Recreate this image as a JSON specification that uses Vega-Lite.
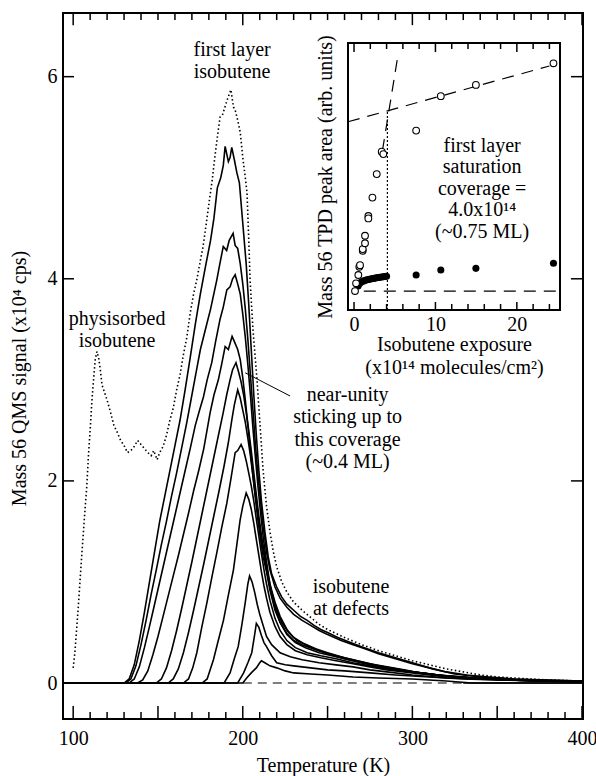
{
"$schema": "https://vega.github.io/schema/vega-lite/v6.json",
"width": 520, "height": 706,
"autosize": {"type": "none"},
"padding": {"left": 63, "top": 13, "right": 13, "bottom": 57},
"background": "white",
"config": {
 "view": {"stroke": "black", "strokeWidth": 2},
 "axis": {"grid": false, "domain": false, "ticks": false, "labelFont": "Liberation Serif", "labelFontSize": 20, "labelColor": "black", "titleFont": "Liberation Serif", "titleFontSize": 20, "titleFontWeight": "normal", "titleColor": "black", "labelFlush": false, "labelOverlap": false},
 "text": {"font": "Liberation Serif", "fontSize": 20, "color": "black"},
 "rule": {"color": "black"}
},
"datasets": {
 "tpd": [
{"c":"A","T":94,"v":0},{"c":"A","T":130,"v":0},{"c":"A","T":133,"v":0.04},{"c":"A","T":136,"v":0.18},{"c":"A","T":139,"v":0.42},{"c":"A","T":142,"v":0.7},{"c":"A","T":145,"v":1.0},{"c":"A","T":148,"v":1.3},{"c":"A","T":151,"v":1.6},{"c":"A","T":154,"v":1.85},{"c":"A","T":157,"v":2.1},{"c":"A","T":160,"v":2.35},{"c":"A","T":163,"v":2.6},{"c":"A","T":166,"v":2.9},{"c":"A","T":169,"v":3.22},{"c":"A","T":172,"v":3.55},{"c":"A","T":175,"v":3.85},{"c":"A","T":178,"v":4.12},{"c":"A","T":181,"v":4.38},{"c":"A","T":183,"v":4.6},{"c":"A","T":185,"v":4.9},{"c":"A","T":187,"v":5.0},{"c":"A","T":188.5,"v":5.12},{"c":"A","T":189.6,"v":5.31},{"c":"A","T":191.5,"v":5.16},{"c":"A","T":192.5,"v":5.2},{"c":"A","T":193.5,"v":5.3},{"c":"A","T":195,"v":5.18},{"c":"A","T":196.5,"v":5.05},{"c":"A","T":198,"v":4.95},{"c":"A","T":200,"v":4.55},{"c":"A","T":202,"v":4.15},{"c":"A","T":203.5,"v":3.75},{"c":"A","T":205,"v":3.3},{"c":"A","T":206.5,"v":2.85},{"c":"A","T":208,"v":2.45},{"c":"A","T":209.5,"v":2.1},{"c":"A","T":211,"v":1.8},{"c":"A","T":213,"v":1.5},{"c":"A","T":215,"v":1.25},{"c":"A","T":217,"v":1.08},{"c":"A","T":220,"v":0.95},{"c":"A","T":223,"v":0.85},{"c":"A","T":226,"v":0.78},{"c":"A","T":230,"v":0.72},{"c":"A","T":234,"v":0.66},{"c":"A","T":238,"v":0.62},{"c":"A","T":242,"v":0.57},{"c":"A","T":246,"v":0.53},{"c":"A","T":250,"v":0.5},{"c":"A","T":256,"v":0.45},{"c":"A","T":262,"v":0.41},{"c":"A","T":270,"v":0.36},{"c":"A","T":280,"v":0.3},{"c":"A","T":290,"v":0.25},{"c":"A","T":300,"v":0.2},{"c":"A","T":312,"v":0.14},{"c":"A","T":325,"v":0.09},{"c":"A","T":340,"v":0.06},{"c":"A","T":356,"v":0.04},{"c":"A","T":375,"v":0.03},{"c":"A","T":400,"v":0.02},
{"c":"B","T":94,"v":0},{"c":"B","T":131,"v":0},{"c":"B","T":134,"v":0.04},{"c":"B","T":137,"v":0.17},{"c":"B","T":140,"v":0.38},{"c":"B","T":143,"v":0.62},{"c":"B","T":146,"v":0.88},{"c":"B","T":149,"v":1.12},{"c":"B","T":152,"v":1.37},{"c":"B","T":155,"v":1.6},{"c":"B","T":158,"v":1.85},{"c":"B","T":161,"v":2.08},{"c":"B","T":164,"v":2.33},{"c":"B","T":167,"v":2.58},{"c":"B","T":170,"v":2.85},{"c":"B","T":173,"v":3.12},{"c":"B","T":175,"v":3.3},{"c":"B","T":178,"v":3.5},{"c":"B","T":181,"v":3.7},{"c":"B","T":184.7,"v":3.99},{"c":"B","T":186.5,"v":4.15},{"c":"B","T":188.5,"v":4.32},{"c":"B","T":190.5,"v":4.28},{"c":"B","T":192,"v":4.38},{"c":"B","T":194.3,"v":4.45},{"c":"B","T":195.5,"v":4.33},{"c":"B","T":197,"v":4.3},{"c":"B","T":198.5,"v":4.15},{"c":"B","T":200,"v":3.95},{"c":"B","T":201.5,"v":3.7},{"c":"B","T":203,"v":3.4},{"c":"B","T":204.5,"v":3.05},{"c":"B","T":206,"v":2.7},{"c":"B","T":207.5,"v":2.35},{"c":"B","T":209,"v":2.05},{"c":"B","T":210.5,"v":1.8},{"c":"B","T":212,"v":1.55},{"c":"B","T":214,"v":1.3},{"c":"B","T":216,"v":1.12},{"c":"B","T":219,"v":0.95},{"c":"B","T":222,"v":0.84},{"c":"B","T":226,"v":0.75},{"c":"B","T":230,"v":0.68},{"c":"B","T":235,"v":0.62},{"c":"B","T":240,"v":0.57},{"c":"B","T":245,"v":0.52},{"c":"B","T":250,"v":0.48},{"c":"B","T":258,"v":0.42},{"c":"B","T":265,"v":0.38},{"c":"B","T":272,"v":0.34},{"c":"B","T":280,"v":0.29},{"c":"B","T":290,"v":0.24},{"c":"B","T":300,"v":0.19},{"c":"B","T":310,"v":0.15},{"c":"B","T":320,"v":0.11},{"c":"B","T":332,"v":0.08},{"c":"B","T":345,"v":0.06},{"c":"B","T":360,"v":0.04},{"c":"B","T":380,"v":0.03},{"c":"B","T":400,"v":0.02},
{"c":"C","T":94,"v":0},{"c":"C","T":133,"v":0},{"c":"C","T":136,"v":0.04},{"c":"C","T":139,"v":0.16},{"c":"C","T":142,"v":0.35},{"c":"C","T":145,"v":0.56},{"c":"C","T":148,"v":0.78},{"c":"C","T":151,"v":1.0},{"c":"C","T":154,"v":1.22},{"c":"C","T":157,"v":1.44},{"c":"C","T":160,"v":1.66},{"c":"C","T":163,"v":1.88},{"c":"C","T":166,"v":2.1},{"c":"C","T":169,"v":2.32},{"c":"C","T":172,"v":2.55},{"c":"C","T":174.5,"v":2.7},{"c":"C","T":176.8,"v":2.83},{"c":"C","T":179,"v":3.0},{"c":"C","T":181.7,"v":3.17},{"c":"C","T":184,"v":3.38},{"c":"C","T":186.6,"v":3.6},{"c":"C","T":188.5,"v":3.72},{"c":"C","T":190.6,"v":3.89},{"c":"C","T":192.5,"v":3.92},{"c":"C","T":194,"v":4.0},{"c":"C","T":195.5,"v":4.04},{"c":"C","T":197,"v":3.95},{"c":"C","T":198.5,"v":3.85},{"c":"C","T":200,"v":3.65},{"c":"C","T":201.5,"v":3.42},{"c":"C","T":203,"v":3.15},{"c":"C","T":204.5,"v":2.85},{"c":"C","T":206,"v":2.52},{"c":"C","T":207.5,"v":2.22},{"c":"C","T":209,"v":1.94},{"c":"C","T":210.5,"v":1.68},{"c":"C","T":212,"v":1.45},{"c":"C","T":214,"v":1.2},{"c":"C","T":216,"v":0.98},{"c":"C","T":219,"v":0.8},{"c":"C","T":222,"v":0.66},{"c":"C","T":226,"v":0.53},{"c":"C","T":230,"v":0.45},{"c":"C","T":236,"v":0.39},{"c":"C","T":243,"v":0.34},{"c":"C","T":250,"v":0.3},{"c":"C","T":260,"v":0.25},{"c":"C","T":270,"v":0.21},{"c":"C","T":280,"v":0.17},{"c":"C","T":290,"v":0.14},{"c":"C","T":300,"v":0.11},{"c":"C","T":315,"v":0.08},{"c":"C","T":330,"v":0.06},{"c":"C","T":345,"v":0.04},{"c":"C","T":365,"v":0.03},{"c":"C","T":385,"v":0.02},{"c":"C","T":400,"v":0.015},
{"c":"D","T":94,"v":0},{"c":"D","T":138,"v":0},{"c":"D","T":141,"v":0.03},{"c":"D","T":144,"v":0.12},{"c":"D","T":147,"v":0.28},{"c":"D","T":150,"v":0.46},{"c":"D","T":153,"v":0.66},{"c":"D","T":156,"v":0.86},{"c":"D","T":159,"v":1.06},{"c":"D","T":162,"v":1.26},{"c":"D","T":165,"v":1.47},{"c":"D","T":168,"v":1.68},{"c":"D","T":171,"v":1.9},{"c":"D","T":174,"v":2.1},{"c":"D","T":177,"v":2.32},{"c":"D","T":180.7,"v":2.67},{"c":"D","T":183,"v":2.85},{"c":"D","T":185.6,"v":3.0},{"c":"D","T":187.5,"v":3.15},{"c":"D","T":189.6,"v":3.33},{"c":"D","T":191.5,"v":3.3},{"c":"D","T":193.7,"v":3.43},{"c":"D","T":195,"v":3.38},{"c":"D","T":197,"v":3.3},{"c":"D","T":198.5,"v":3.2},{"c":"D","T":200,"v":3.02},{"c":"D","T":201.5,"v":2.8},{"c":"D","T":203,"v":2.55},{"c":"D","T":204.5,"v":2.3},{"c":"D","T":206,"v":2.05},{"c":"D","T":207.5,"v":1.82},{"c":"D","T":209,"v":1.6},{"c":"D","T":210.5,"v":1.42},{"c":"D","T":212,"v":1.25},{"c":"D","T":214,"v":1.1},{"c":"D","T":216,"v":0.92},{"c":"D","T":219,"v":0.72},{"c":"D","T":222,"v":0.6},{"c":"D","T":226,"v":0.49},{"c":"D","T":230,"v":0.42},{"c":"D","T":236,"v":0.37},{"c":"D","T":243,"v":0.33},{"c":"D","T":250,"v":0.29},{"c":"D","T":260,"v":0.24},{"c":"D","T":270,"v":0.2},{"c":"D","T":280,"v":0.17},{"c":"D","T":290,"v":0.14},{"c":"D","T":300,"v":0.11},{"c":"D","T":315,"v":0.08},{"c":"D","T":330,"v":0.06},{"c":"D","T":345,"v":0.04},{"c":"D","T":365,"v":0.03},{"c":"D","T":385,"v":0.02},{"c":"D","T":400,"v":0.015},
{"c":"E","T":94,"v":0},{"c":"E","T":149,"v":0},{"c":"E","T":152,"v":0.04},{"c":"E","T":155,"v":0.15},{"c":"E","T":158,"v":0.32},{"c":"E","T":161,"v":0.52},{"c":"E","T":164,"v":0.74},{"c":"E","T":167,"v":0.97},{"c":"E","T":170,"v":1.2},{"c":"E","T":173,"v":1.44},{"c":"E","T":176,"v":1.68},{"c":"E","T":179,"v":1.92},{"c":"E","T":182,"v":2.16},{"c":"E","T":185,"v":2.4},{"c":"E","T":188.4,"v":2.67},{"c":"E","T":190.5,"v":2.85},{"c":"E","T":192.5,"v":3.0},{"c":"E","T":194,"v":3.1},{"c":"E","T":196,"v":3.17},{"c":"E","T":197.5,"v":3.08},{"c":"E","T":199,"v":2.98},{"c":"E","T":200.5,"v":2.85},{"c":"E","T":202,"v":2.68},{"c":"E","T":203.5,"v":2.5},{"c":"E","T":205,"v":2.3},{"c":"E","T":206.5,"v":2.08},{"c":"E","T":208,"v":1.86},{"c":"E","T":209.5,"v":1.65},{"c":"E","T":211,"v":1.46},{"c":"E","T":213,"v":1.26},{"c":"E","T":215,"v":1.06},{"c":"E","T":217,"v":0.9},{"c":"E","T":220,"v":0.72},{"c":"E","T":223,"v":0.6},{"c":"E","T":227,"v":0.5},{"c":"E","T":232,"v":0.42},{"c":"E","T":238,"v":0.37},{"c":"E","T":245,"v":0.32},{"c":"E","T":255,"v":0.27},{"c":"E","T":265,"v":0.23},{"c":"E","T":275,"v":0.19},{"c":"E","T":285,"v":0.16},{"c":"E","T":295,"v":0.13},{"c":"E","T":305,"v":0.1},{"c":"E","T":320,"v":0.07},{"c":"E","T":335,"v":0.05},{"c":"E","T":355,"v":0.03},{"c":"E","T":375,"v":0.02},{"c":"E","T":400,"v":0.015},
{"c":"F","T":94,"v":0},{"c":"F","T":156,"v":0},{"c":"F","T":159,"v":0.04},{"c":"F","T":162,"v":0.14},{"c":"F","T":165,"v":0.3},{"c":"F","T":168,"v":0.5},{"c":"F","T":171,"v":0.72},{"c":"F","T":174,"v":0.95},{"c":"F","T":177,"v":1.18},{"c":"F","T":180,"v":1.42},{"c":"F","T":183,"v":1.66},{"c":"F","T":186,"v":1.9},{"c":"F","T":189,"v":2.15},{"c":"F","T":191.5,"v":2.38},{"c":"F","T":193.5,"v":2.6},{"c":"F","T":195,"v":2.75},{"c":"F","T":197,"v":2.9},{"c":"F","T":198.5,"v":2.82},{"c":"F","T":200,"v":2.7},{"c":"F","T":201.5,"v":2.58},{"c":"F","T":203,"v":2.42},{"c":"F","T":204.5,"v":2.25},{"c":"F","T":206,"v":2.05},{"c":"F","T":207.5,"v":1.85},{"c":"F","T":209,"v":1.66},{"c":"F","T":210.5,"v":1.48},{"c":"F","T":212,"v":1.32},{"c":"F","T":214,"v":1.12},{"c":"F","T":216,"v":0.95},{"c":"F","T":219,"v":0.75},{"c":"F","T":222,"v":0.6},{"c":"F","T":226,"v":0.48},{"c":"F","T":231,"v":0.4},{"c":"F","T":237,"v":0.35},{"c":"F","T":245,"v":0.3},{"c":"F","T":255,"v":0.26},{"c":"F","T":265,"v":0.22},{"c":"F","T":275,"v":0.18},{"c":"F","T":285,"v":0.15},{"c":"F","T":295,"v":0.12},{"c":"F","T":305,"v":0.1},{"c":"F","T":320,"v":0.07},{"c":"F","T":335,"v":0.05},{"c":"F","T":355,"v":0.03},{"c":"F","T":375,"v":0.02},{"c":"F","T":400,"v":0.015},
{"c":"G","T":94,"v":0},{"c":"G","T":165,"v":0},{"c":"G","T":168,"v":0.04},{"c":"G","T":170.5,"v":0.15},{"c":"G","T":172.9,"v":0.3},{"c":"G","T":175.8,"v":0.55},{"c":"G","T":178.8,"v":0.79},{"c":"G","T":181.7,"v":1.04},{"c":"G","T":184.7,"v":1.29},{"c":"G","T":187.6,"v":1.54},{"c":"G","T":190.6,"v":1.78},{"c":"G","T":193,"v":2.02},{"c":"G","T":195.5,"v":2.28},{"c":"G","T":197,"v":2.3},{"c":"G","T":199,"v":2.36},{"c":"G","T":200.5,"v":2.3},{"c":"G","T":202,"v":2.2},{"c":"G","T":203.5,"v":2.08},{"c":"G","T":205,"v":1.95},{"c":"G","T":206.5,"v":1.8},{"c":"G","T":208,"v":1.62},{"c":"G","T":209.5,"v":1.45},{"c":"G","T":211,"v":1.28},{"c":"G","T":212.5,"v":1.12},{"c":"G","T":214,"v":0.98},{"c":"G","T":216,"v":0.82},{"c":"G","T":219,"v":0.64},{"c":"G","T":222,"v":0.52},{"c":"G","T":226,"v":0.42},{"c":"G","T":231,"v":0.35},{"c":"G","T":238,"v":0.3},{"c":"G","T":246,"v":0.27},{"c":"G","T":255,"v":0.24},{"c":"G","T":265,"v":0.2},{"c":"G","T":275,"v":0.17},{"c":"G","T":285,"v":0.14},{"c":"G","T":295,"v":0.12},{"c":"G","T":305,"v":0.1},{"c":"G","T":320,"v":0.07},{"c":"G","T":335,"v":0.05},{"c":"G","T":355,"v":0.03},{"c":"G","T":375,"v":0.02},{"c":"G","T":400,"v":0.015},
{"c":"H","T":94,"v":0},{"c":"H","T":176,"v":0},{"c":"H","T":179,"v":0.04},{"c":"H","T":182.7,"v":0.23},{"c":"H","T":185.7,"v":0.43},{"c":"H","T":188.6,"v":0.62},{"c":"H","T":191.5,"v":0.87},{"c":"H","T":194.5,"v":1.12},{"c":"H","T":196.5,"v":1.37},{"c":"H","T":198.4,"v":1.61},{"c":"H","T":200,"v":1.75},{"c":"H","T":202,"v":1.88},{"c":"H","T":203.5,"v":1.82},{"c":"H","T":205,"v":1.72},{"c":"H","T":206.5,"v":1.58},{"c":"H","T":208,"v":1.42},{"c":"H","T":209.5,"v":1.26},{"c":"H","T":211,"v":1.1},{"c":"H","T":212.5,"v":0.96},{"c":"H","T":214,"v":0.84},{"c":"H","T":216,"v":0.7},{"c":"H","T":219,"v":0.56},{"c":"H","T":222,"v":0.46},{"c":"H","T":226,"v":0.38},{"c":"H","T":231,"v":0.32},{"c":"H","T":238,"v":0.28},{"c":"H","T":246,"v":0.25},{"c":"H","T":255,"v":0.22},{"c":"H","T":265,"v":0.19},{"c":"H","T":275,"v":0.16},{"c":"H","T":285,"v":0.13},{"c":"H","T":295,"v":0.11},{"c":"H","T":305,"v":0.09},{"c":"H","T":320,"v":0.06},{"c":"H","T":335,"v":0.04},{"c":"H","T":355,"v":0.03},{"c":"H","T":375,"v":0.02},{"c":"H","T":400,"v":0.01},
{"c":"I","T":94,"v":0},{"c":"I","T":189,"v":0},{"c":"I","T":192.5,"v":0.1},{"c":"I","T":195,"v":0.24},{"c":"I","T":197.3,"v":0.36},{"c":"I","T":199.5,"v":0.58},{"c":"I","T":201.4,"v":0.79},{"c":"I","T":203,"v":0.98},{"c":"I","T":204,"v":1.06},{"c":"I","T":205.5,"v":1.0},{"c":"I","T":207,"v":0.9},{"c":"I","T":208.5,"v":0.78},{"c":"I","T":210,"v":0.68},{"c":"I","T":212,"v":0.57},{"c":"I","T":214,"v":0.46},{"c":"I","T":217,"v":0.38},{"c":"I","T":222,"v":0.3},{"c":"I","T":228,"v":0.26},{"c":"I","T":235,"v":0.23},{"c":"I","T":245,"v":0.2},{"c":"I","T":255,"v":0.18},{"c":"I","T":265,"v":0.16},{"c":"I","T":275,"v":0.13},{"c":"I","T":285,"v":0.11},{"c":"I","T":300,"v":0.08},{"c":"I","T":320,"v":0.05},{"c":"I","T":340,"v":0.04},{"c":"I","T":360,"v":0.03},{"c":"I","T":380,"v":0.02},{"c":"I","T":400,"v":0.01},
{"c":"J","T":94,"v":0},{"c":"J","T":197,"v":0},{"c":"J","T":200.5,"v":0.1},{"c":"J","T":203,"v":0.2},{"c":"J","T":205.3,"v":0.3},{"c":"J","T":207,"v":0.48},{"c":"J","T":208,"v":0.59},{"c":"J","T":209.5,"v":0.55},{"c":"J","T":211,"v":0.47},{"c":"J","T":212.5,"v":0.4},{"c":"J","T":214,"v":0.36},{"c":"J","T":217,"v":0.27},{"c":"J","T":220,"v":0.2},{"c":"J","T":225,"v":0.18},{"c":"J","T":230,"v":0.17},{"c":"J","T":240,"v":0.15},{"c":"J","T":250,"v":0.13},{"c":"J","T":260,"v":0.12},{"c":"J","T":275,"v":0.1},{"c":"J","T":290,"v":0.08},{"c":"J","T":310,"v":0.06},{"c":"J","T":330,"v":0.04},{"c":"J","T":350,"v":0.03},{"c":"J","T":375,"v":0.02},{"c":"J","T":400,"v":0.01},
{"c":"K","T":94,"v":0},{"c":"K","T":200,"v":0},{"c":"K","T":202.3,"v":0.05},{"c":"K","T":205,"v":0.1},{"c":"K","T":208,"v":0.15},{"c":"K","T":210,"v":0.2},{"c":"K","T":211,"v":0.22},{"c":"K","T":213,"v":0.2},{"c":"K","T":216,"v":0.17},{"c":"K","T":220,"v":0.15},{"c":"K","T":225,"v":0.12},{"c":"K","T":230,"v":0.1},{"c":"K","T":240,"v":0.09},{"c":"K","T":250,"v":0.08},{"c":"K","T":265,"v":0.06},{"c":"K","T":280,"v":0.05},{"c":"K","T":300,"v":0.04},{"c":"K","T":320,"v":0.02},{"c":"K","T":335,"v":0},{"c":"K","T":400,"v":0}
 ],
 "sat": [
{"T":100,"v":0.15},{"T":101,"v":0.3},{"T":103,"v":0.75},{"T":105,"v":1.25},{"T":107,"v":1.72},{"T":108,"v":1.94},{"T":109,"v":2.25},{"T":110,"v":2.5},{"T":111,"v":2.78},{"T":112,"v":3.0},{"T":113,"v":3.2},{"T":114,"v":3.28},{"T":115,"v":3.22},{"T":116,"v":3.1},{"T":117,"v":2.95},{"T":118,"v":2.9},{"T":120,"v":2.8},{"T":122,"v":2.68},{"T":124,"v":2.55},{"T":126,"v":2.48},{"T":128,"v":2.4},{"T":130,"v":2.35},{"T":132,"v":2.28},{"T":134,"v":2.3},{"T":136,"v":2.34},{"T":138,"v":2.4},{"T":140,"v":2.36},{"T":142,"v":2.32},{"T":144,"v":2.28},{"T":146,"v":2.25},{"T":147.5,"v":2.3},{"T":149.5,"v":2.21},{"T":151,"v":2.28},{"T":153,"v":2.34},{"T":155,"v":2.45},{"T":157,"v":2.6},{"T":159,"v":2.72},{"T":161,"v":2.9},{"T":163,"v":3.05},{"T":165,"v":3.25},{"T":167,"v":3.42},{"T":169,"v":3.66},{"T":171,"v":3.85},{"T":173,"v":4.0},{"T":175,"v":4.18},{"T":176.6,"v":4.32},{"T":178.5,"v":4.55},{"T":180.5,"v":4.8},{"T":182,"v":4.98},{"T":183.5,"v":5.2},{"T":185,"v":5.4},{"T":186.6,"v":5.6},{"T":188,"v":5.62},{"T":189.5,"v":5.7},{"T":191,"v":5.78},{"T":193,"v":5.87},{"T":194.5,"v":5.7},{"T":195.5,"v":5.67},{"T":197,"v":5.57},{"T":198.5,"v":5.45},{"T":200,"v":5.2},{"T":201.5,"v":5.0},{"T":202.5,"v":4.85},{"T":203.5,"v":4.4},{"T":204.3,"v":3.99},{"T":206,"v":3.5},{"T":208.4,"v":3.0},{"T":210,"v":2.6},{"T":212,"v":2.1},{"T":214,"v":1.75},{"T":216,"v":1.5},{"T":218,"v":1.3},{"T":220,"v":1.15},{"T":223,"v":1.0},{"T":226,"v":0.9},{"T":230,"v":0.8},{"T":235,"v":0.72},{"T":240,"v":0.65},{"T":245,"v":0.58},{"T":250,"v":0.53},{"T":255,"v":0.49},{"T":260,"v":0.45},{"T":270,"v":0.38},{"T":280,"v":0.32},{"T":290,"v":0.27},{"T":300,"v":0.22},{"T":310,"v":0.18},{"T":320,"v":0.14},{"T":330,"v":0.11},{"T":340,"v":0.08},{"T":350,"v":0.06},{"T":360,"v":0.05},{"T":370,"v":0.04},{"T":380,"v":0.03},{"T":390,"v":0.025},{"T":400,"v":0.02}
 ],
 "open": [
{"e":0.12,"a":7.1},{"e":0.25,"a":10.0},{"e":0.53,"a":13.1},{"e":0.65,"a":16.2},{"e":0.74,"a":16.8},{"e":1.07,"a":22.2},{"e":1.07,"a":22.8},{"e":1.35,"a":25.0},{"e":1.35,"a":27.8},{"e":1.76,"a":35.2},{"e":1.76,"a":34.3},{"e":2.26,"a":42.1},{"e":2.79,"a":50.9},{"e":3.4,"a":59.3},{"e":3.6,"a":58.4},{"e":7.63,"a":67.2},{"e":10.66,"a":80.1},{"e":14.97,"a":84.3},{"e":24.5,"a":92.4}
 ],
 "filled": [
{"e":0.5,"a":9.0},{"e":0.65,"a":9.8},{"e":0.8,"a":10.3},{"e":1.0,"a":10.7},{"e":1.2,"a":10.9},{"e":1.4,"a":11.1},{"e":1.6,"a":11.3},{"e":1.8,"a":11.4},{"e":2.0,"a":11.6},{"e":2.2,"a":11.7},{"e":2.4,"a":11.8},{"e":2.6,"a":11.95},{"e":2.8,"a":12.05},{"e":3.0,"a":12.15},{"e":3.2,"a":12.25},{"e":3.4,"a":12.35},{"e":3.6,"a":12.45},{"e":3.8,"a":12.55},{"e":4.0,"a":12.65},{"e":7.63,"a":13.1},{"e":10.66,"a":15.0},{"e":14.97,"a":15.6},{"e":24.5,"a":17.5}
 ]
},
"layer": [
 {"data": {"name": "tpd"},
  "mark": {"type": "line", "color": "black", "strokeWidth": 1.6},
  "encoding": {
   "x": {"field": "T", "type": "quantitative", "scale": {"domain": [94, 400.6], "nice": false, "zero": false},
     "axis": {"orient": "bottom", "values": [100, 200, 300, 400], "labelPadding": 9, "title": "Temperature (K)", "titleY": 52, "titleBaseline": "alphabetic"}},
   "y": {"field": "v", "type": "quantitative", "scale": {"domain": [-0.356, 6.63], "nice": false, "zero": false},
     "axis": {"orient": "left", "values": [0, 2, 4, 6], "labelPadding": 6, "title": "Mass 56 QMS signal (x10⁴ cps)", "titleX": -38, "titleY": 365, "titleBaseline": "alphabetic", "titleAngle": 270}},
   "detail": {"field": "c"}
  }},
 {"data": {"name": "sat"},
  "mark": {"type": "line", "color": "black", "strokeWidth": 1.6, "strokeDash": [1.5, 2.5]},
  "encoding": {
   "x": {"field": "T", "type": "quantitative", "scale": {"domain": [94, 400.6], "nice": false, "zero": false}, "axis": null},
   "y": {"field": "v", "type": "quantitative", "scale": {"domain": [-0.356, 6.63], "nice": false, "zero": false}, "axis": null}
  }},
 {"data":{"values":[{}]},"mark":{"type":"rule","strokeWidth":1.5},"encoding":{"x":{"datum":100,"type":"quantitative","scale":{"domain":[94,400.6],"nice":false,"zero":false},"axis":null},"y":{"datum":-0.356,"type":"quantitative","scale":{"domain":[-0.356,6.63],"nice":false,"zero":false},"axis":null},"y2":{"datum":-0.227}}},
 {"data":{"values":[{}]},"mark":{"type":"rule","strokeWidth":1.5},"encoding":{"x":{"datum":150,"type":"quantitative","scale":{"domain":[94,400.6],"nice":false,"zero":false},"axis":null},"y":{"datum":-0.356,"type":"quantitative","scale":{"domain":[-0.356,6.63],"nice":false,"zero":false},"axis":null},"y2":{"datum":-0.227}}},
 {"data":{"values":[{}]},"mark":{"type":"rule","strokeWidth":1.5},"encoding":{"x":{"datum":200,"type":"quantitative","scale":{"domain":[94,400.6],"nice":false,"zero":false},"axis":null},"y":{"datum":-0.356,"type":"quantitative","scale":{"domain":[-0.356,6.63],"nice":false,"zero":false},"axis":null},"y2":{"datum":-0.227}}},
 {"data":{"values":[{}]},"mark":{"type":"rule","strokeWidth":1.5},"encoding":{"x":{"datum":250,"type":"quantitative","scale":{"domain":[94,400.6],"nice":false,"zero":false},"axis":null},"y":{"datum":-0.356,"type":"quantitative","scale":{"domain":[-0.356,6.63],"nice":false,"zero":false},"axis":null},"y2":{"datum":-0.227}}},
 {"data":{"values":[{}]},"mark":{"type":"rule","strokeWidth":1.5},"encoding":{"x":{"datum":300,"type":"quantitative","scale":{"domain":[94,400.6],"nice":false,"zero":false},"axis":null},"y":{"datum":-0.356,"type":"quantitative","scale":{"domain":[-0.356,6.63],"nice":false,"zero":false},"axis":null},"y2":{"datum":-0.227}}},
 {"data":{"values":[{}]},"mark":{"type":"rule","strokeWidth":1.5},"encoding":{"x":{"datum":350,"type":"quantitative","scale":{"domain":[94,400.6],"nice":false,"zero":false},"axis":null},"y":{"datum":-0.356,"type":"quantitative","scale":{"domain":[-0.356,6.63],"nice":false,"zero":false},"axis":null},"y2":{"datum":-0.227}}},
 {"data":{"values":[{}]},"mark":{"type":"rule","strokeWidth":1.5},"encoding":{"x":{"datum":400,"type":"quantitative","scale":{"domain":[94,400.6],"nice":false,"zero":false},"axis":null},"y":{"datum":-0.356,"type":"quantitative","scale":{"domain":[-0.356,6.63],"nice":false,"zero":false},"axis":null},"y2":{"datum":-0.227}}},
 {"data":{"values":[{}]},"mark":{"type":"rule","strokeWidth":1.5},"encoding":{"x":{"datum":110,"type":"quantitative","scale":{"domain":[94,400.6],"nice":false,"zero":false},"axis":null},"y":{"datum":-0.356,"type":"quantitative","scale":{"domain":[-0.356,6.63],"nice":false,"zero":false},"axis":null},"y2":{"datum":-0.287}}},
 {"data":{"values":[{}]},"mark":{"type":"rule","strokeWidth":1.5},"encoding":{"x":{"datum":120,"type":"quantitative","scale":{"domain":[94,400.6],"nice":false,"zero":false},"axis":null},"y":{"datum":-0.356,"type":"quantitative","scale":{"domain":[-0.356,6.63],"nice":false,"zero":false},"axis":null},"y2":{"datum":-0.287}}},
 {"data":{"values":[{}]},"mark":{"type":"rule","strokeWidth":1.5},"encoding":{"x":{"datum":130,"type":"quantitative","scale":{"domain":[94,400.6],"nice":false,"zero":false},"axis":null},"y":{"datum":-0.356,"type":"quantitative","scale":{"domain":[-0.356,6.63],"nice":false,"zero":false},"axis":null},"y2":{"datum":-0.287}}},
 {"data":{"values":[{}]},"mark":{"type":"rule","strokeWidth":1.5},"encoding":{"x":{"datum":140,"type":"quantitative","scale":{"domain":[94,400.6],"nice":false,"zero":false},"axis":null},"y":{"datum":-0.356,"type":"quantitative","scale":{"domain":[-0.356,6.63],"nice":false,"zero":false},"axis":null},"y2":{"datum":-0.287}}},
 {"data":{"values":[{}]},"mark":{"type":"rule","strokeWidth":1.5},"encoding":{"x":{"datum":160,"type":"quantitative","scale":{"domain":[94,400.6],"nice":false,"zero":false},"axis":null},"y":{"datum":-0.356,"type":"quantitative","scale":{"domain":[-0.356,6.63],"nice":false,"zero":false},"axis":null},"y2":{"datum":-0.287}}},
 {"data":{"values":[{}]},"mark":{"type":"rule","strokeWidth":1.5},"encoding":{"x":{"datum":170,"type":"quantitative","scale":{"domain":[94,400.6],"nice":false,"zero":false},"axis":null},"y":{"datum":-0.356,"type":"quantitative","scale":{"domain":[-0.356,6.63],"nice":false,"zero":false},"axis":null},"y2":{"datum":-0.287}}},
 {"data":{"values":[{}]},"mark":{"type":"rule","strokeWidth":1.5},"encoding":{"x":{"datum":180,"type":"quantitative","scale":{"domain":[94,400.6],"nice":false,"zero":false},"axis":null},"y":{"datum":-0.356,"type":"quantitative","scale":{"domain":[-0.356,6.63],"nice":false,"zero":false},"axis":null},"y2":{"datum":-0.287}}},
 {"data":{"values":[{}]},"mark":{"type":"rule","strokeWidth":1.5},"encoding":{"x":{"datum":190,"type":"quantitative","scale":{"domain":[94,400.6],"nice":false,"zero":false},"axis":null},"y":{"datum":-0.356,"type":"quantitative","scale":{"domain":[-0.356,6.63],"nice":false,"zero":false},"axis":null},"y2":{"datum":-0.287}}},
 {"data":{"values":[{}]},"mark":{"type":"rule","strokeWidth":1.5},"encoding":{"x":{"datum":210,"type":"quantitative","scale":{"domain":[94,400.6],"nice":false,"zero":false},"axis":null},"y":{"datum":-0.356,"type":"quantitative","scale":{"domain":[-0.356,6.63],"nice":false,"zero":false},"axis":null},"y2":{"datum":-0.287}}},
 {"data":{"values":[{}]},"mark":{"type":"rule","strokeWidth":1.5},"encoding":{"x":{"datum":220,"type":"quantitative","scale":{"domain":[94,400.6],"nice":false,"zero":false},"axis":null},"y":{"datum":-0.356,"type":"quantitative","scale":{"domain":[-0.356,6.63],"nice":false,"zero":false},"axis":null},"y2":{"datum":-0.287}}},
 {"data":{"values":[{}]},"mark":{"type":"rule","strokeWidth":1.5},"encoding":{"x":{"datum":230,"type":"quantitative","scale":{"domain":[94,400.6],"nice":false,"zero":false},"axis":null},"y":{"datum":-0.356,"type":"quantitative","scale":{"domain":[-0.356,6.63],"nice":false,"zero":false},"axis":null},"y2":{"datum":-0.287}}},
 {"data":{"values":[{}]},"mark":{"type":"rule","strokeWidth":1.5},"encoding":{"x":{"datum":240,"type":"quantitative","scale":{"domain":[94,400.6],"nice":false,"zero":false},"axis":null},"y":{"datum":-0.356,"type":"quantitative","scale":{"domain":[-0.356,6.63],"nice":false,"zero":false},"axis":null},"y2":{"datum":-0.287}}},
 {"data":{"values":[{}]},"mark":{"type":"rule","strokeWidth":1.5},"encoding":{"x":{"datum":260,"type":"quantitative","scale":{"domain":[94,400.6],"nice":false,"zero":false},"axis":null},"y":{"datum":-0.356,"type":"quantitative","scale":{"domain":[-0.356,6.63],"nice":false,"zero":false},"axis":null},"y2":{"datum":-0.287}}},
 {"data":{"values":[{}]},"mark":{"type":"rule","strokeWidth":1.5},"encoding":{"x":{"datum":270,"type":"quantitative","scale":{"domain":[94,400.6],"nice":false,"zero":false},"axis":null},"y":{"datum":-0.356,"type":"quantitative","scale":{"domain":[-0.356,6.63],"nice":false,"zero":false},"axis":null},"y2":{"datum":-0.287}}},
 {"data":{"values":[{}]},"mark":{"type":"rule","strokeWidth":1.5},"encoding":{"x":{"datum":280,"type":"quantitative","scale":{"domain":[94,400.6],"nice":false,"zero":false},"axis":null},"y":{"datum":-0.356,"type":"quantitative","scale":{"domain":[-0.356,6.63],"nice":false,"zero":false},"axis":null},"y2":{"datum":-0.287}}},
 {"data":{"values":[{}]},"mark":{"type":"rule","strokeWidth":1.5},"encoding":{"x":{"datum":290,"type":"quantitative","scale":{"domain":[94,400.6],"nice":false,"zero":false},"axis":null},"y":{"datum":-0.356,"type":"quantitative","scale":{"domain":[-0.356,6.63],"nice":false,"zero":false},"axis":null},"y2":{"datum":-0.287}}},
 {"data":{"values":[{}]},"mark":{"type":"rule","strokeWidth":1.5},"encoding":{"x":{"datum":310,"type":"quantitative","scale":{"domain":[94,400.6],"nice":false,"zero":false},"axis":null},"y":{"datum":-0.356,"type":"quantitative","scale":{"domain":[-0.356,6.63],"nice":false,"zero":false},"axis":null},"y2":{"datum":-0.287}}},
 {"data":{"values":[{}]},"mark":{"type":"rule","strokeWidth":1.5},"encoding":{"x":{"datum":320,"type":"quantitative","scale":{"domain":[94,400.6],"nice":false,"zero":false},"axis":null},"y":{"datum":-0.356,"type":"quantitative","scale":{"domain":[-0.356,6.63],"nice":false,"zero":false},"axis":null},"y2":{"datum":-0.287}}},
 {"data":{"values":[{}]},"mark":{"type":"rule","strokeWidth":1.5},"encoding":{"x":{"datum":330,"type":"quantitative","scale":{"domain":[94,400.6],"nice":false,"zero":false},"axis":null},"y":{"datum":-0.356,"type":"quantitative","scale":{"domain":[-0.356,6.63],"nice":false,"zero":false},"axis":null},"y2":{"datum":-0.287}}},
 {"data":{"values":[{}]},"mark":{"type":"rule","strokeWidth":1.5},"encoding":{"x":{"datum":340,"type":"quantitative","scale":{"domain":[94,400.6],"nice":false,"zero":false},"axis":null},"y":{"datum":-0.356,"type":"quantitative","scale":{"domain":[-0.356,6.63],"nice":false,"zero":false},"axis":null},"y2":{"datum":-0.287}}},
 {"data":{"values":[{}]},"mark":{"type":"rule","strokeWidth":1.5},"encoding":{"x":{"datum":360,"type":"quantitative","scale":{"domain":[94,400.6],"nice":false,"zero":false},"axis":null},"y":{"datum":-0.356,"type":"quantitative","scale":{"domain":[-0.356,6.63],"nice":false,"zero":false},"axis":null},"y2":{"datum":-0.287}}},
 {"data":{"values":[{}]},"mark":{"type":"rule","strokeWidth":1.5},"encoding":{"x":{"datum":370,"type":"quantitative","scale":{"domain":[94,400.6],"nice":false,"zero":false},"axis":null},"y":{"datum":-0.356,"type":"quantitative","scale":{"domain":[-0.356,6.63],"nice":false,"zero":false},"axis":null},"y2":{"datum":-0.287}}},
 {"data":{"values":[{}]},"mark":{"type":"rule","strokeWidth":1.5},"encoding":{"x":{"datum":380,"type":"quantitative","scale":{"domain":[94,400.6],"nice":false,"zero":false},"axis":null},"y":{"datum":-0.356,"type":"quantitative","scale":{"domain":[-0.356,6.63],"nice":false,"zero":false},"axis":null},"y2":{"datum":-0.287}}},
 {"data":{"values":[{}]},"mark":{"type":"rule","strokeWidth":1.5},"encoding":{"x":{"datum":390,"type":"quantitative","scale":{"domain":[94,400.6],"nice":false,"zero":false},"axis":null},"y":{"datum":-0.356,"type":"quantitative","scale":{"domain":[-0.356,6.63],"nice":false,"zero":false},"axis":null},"y2":{"datum":-0.287}}},
 {"data":{"values":[{}]},"mark":{"type":"rule","strokeWidth":1.5},"encoding":{"x":{"datum":100,"type":"quantitative","scale":{"domain":[94,400.6],"nice":false,"zero":false},"axis":null},"y":{"datum":6.63,"type":"quantitative","scale":{"domain":[-0.356,6.63],"nice":false,"zero":false},"axis":null},"y2":{"datum":6.51}}},
 {"data":{"values":[{}]},"mark":{"type":"rule","strokeWidth":1.5},"encoding":{"x":{"datum":200,"type":"quantitative","scale":{"domain":[94,400.6],"nice":false,"zero":false},"axis":null},"y":{"datum":6.63,"type":"quantitative","scale":{"domain":[-0.356,6.63],"nice":false,"zero":false},"axis":null},"y2":{"datum":6.51}}},
 {"data":{"values":[{}]},"mark":{"type":"rule","strokeWidth":1.5},"encoding":{"x":{"datum":300,"type":"quantitative","scale":{"domain":[94,400.6],"nice":false,"zero":false},"axis":null},"y":{"datum":6.63,"type":"quantitative","scale":{"domain":[-0.356,6.63],"nice":false,"zero":false},"axis":null},"y2":{"datum":6.51}}},
 {"data":{"values":[{}]},"mark":{"type":"rule","strokeWidth":1.5},"encoding":{"x":{"datum":400,"type":"quantitative","scale":{"domain":[94,400.6],"nice":false,"zero":false},"axis":null},"y":{"datum":6.63,"type":"quantitative","scale":{"domain":[-0.356,6.63],"nice":false,"zero":false},"axis":null},"y2":{"datum":6.51}}},
 {"data":{"values":[{}]},"mark":{"type":"rule","strokeWidth":1.5},"encoding":{"x":{"datum":110,"type":"quantitative","scale":{"domain":[94,400.6],"nice":false,"zero":false},"axis":null},"y":{"datum":6.63,"type":"quantitative","scale":{"domain":[-0.356,6.63],"nice":false,"zero":false},"axis":null},"y2":{"datum":6.56}}},
 {"data":{"values":[{}]},"mark":{"type":"rule","strokeWidth":1.5},"encoding":{"x":{"datum":120,"type":"quantitative","scale":{"domain":[94,400.6],"nice":false,"zero":false},"axis":null},"y":{"datum":6.63,"type":"quantitative","scale":{"domain":[-0.356,6.63],"nice":false,"zero":false},"axis":null},"y2":{"datum":6.56}}},
 {"data":{"values":[{}]},"mark":{"type":"rule","strokeWidth":1.5},"encoding":{"x":{"datum":130,"type":"quantitative","scale":{"domain":[94,400.6],"nice":false,"zero":false},"axis":null},"y":{"datum":6.63,"type":"quantitative","scale":{"domain":[-0.356,6.63],"nice":false,"zero":false},"axis":null},"y2":{"datum":6.56}}},
 {"data":{"values":[{}]},"mark":{"type":"rule","strokeWidth":1.5},"encoding":{"x":{"datum":140,"type":"quantitative","scale":{"domain":[94,400.6],"nice":false,"zero":false},"axis":null},"y":{"datum":6.63,"type":"quantitative","scale":{"domain":[-0.356,6.63],"nice":false,"zero":false},"axis":null},"y2":{"datum":6.56}}},
 {"data":{"values":[{}]},"mark":{"type":"rule","strokeWidth":1.5},"encoding":{"x":{"datum":150,"type":"quantitative","scale":{"domain":[94,400.6],"nice":false,"zero":false},"axis":null},"y":{"datum":6.63,"type":"quantitative","scale":{"domain":[-0.356,6.63],"nice":false,"zero":false},"axis":null},"y2":{"datum":6.56}}},
 {"data":{"values":[{}]},"mark":{"type":"rule","strokeWidth":1.5},"encoding":{"x":{"datum":160,"type":"quantitative","scale":{"domain":[94,400.6],"nice":false,"zero":false},"axis":null},"y":{"datum":6.63,"type":"quantitative","scale":{"domain":[-0.356,6.63],"nice":false,"zero":false},"axis":null},"y2":{"datum":6.56}}},
 {"data":{"values":[{}]},"mark":{"type":"rule","strokeWidth":1.5},"encoding":{"x":{"datum":170,"type":"quantitative","scale":{"domain":[94,400.6],"nice":false,"zero":false},"axis":null},"y":{"datum":6.63,"type":"quantitative","scale":{"domain":[-0.356,6.63],"nice":false,"zero":false},"axis":null},"y2":{"datum":6.56}}},
 {"data":{"values":[{}]},"mark":{"type":"rule","strokeWidth":1.5},"encoding":{"x":{"datum":180,"type":"quantitative","scale":{"domain":[94,400.6],"nice":false,"zero":false},"axis":null},"y":{"datum":6.63,"type":"quantitative","scale":{"domain":[-0.356,6.63],"nice":false,"zero":false},"axis":null},"y2":{"datum":6.56}}},
 {"data":{"values":[{}]},"mark":{"type":"rule","strokeWidth":1.5},"encoding":{"x":{"datum":190,"type":"quantitative","scale":{"domain":[94,400.6],"nice":false,"zero":false},"axis":null},"y":{"datum":6.63,"type":"quantitative","scale":{"domain":[-0.356,6.63],"nice":false,"zero":false},"axis":null},"y2":{"datum":6.56}}},
 {"data":{"values":[{}]},"mark":{"type":"rule","strokeWidth":1.5},"encoding":{"x":{"datum":210,"type":"quantitative","scale":{"domain":[94,400.6],"nice":false,"zero":false},"axis":null},"y":{"datum":6.63,"type":"quantitative","scale":{"domain":[-0.356,6.63],"nice":false,"zero":false},"axis":null},"y2":{"datum":6.56}}},
 {"data":{"values":[{}]},"mark":{"type":"rule","strokeWidth":1.5},"encoding":{"x":{"datum":220,"type":"quantitative","scale":{"domain":[94,400.6],"nice":false,"zero":false},"axis":null},"y":{"datum":6.63,"type":"quantitative","scale":{"domain":[-0.356,6.63],"nice":false,"zero":false},"axis":null},"y2":{"datum":6.56}}},
 {"data":{"values":[{}]},"mark":{"type":"rule","strokeWidth":1.5},"encoding":{"x":{"datum":230,"type":"quantitative","scale":{"domain":[94,400.6],"nice":false,"zero":false},"axis":null},"y":{"datum":6.63,"type":"quantitative","scale":{"domain":[-0.356,6.63],"nice":false,"zero":false},"axis":null},"y2":{"datum":6.56}}},
 {"data":{"values":[{}]},"mark":{"type":"rule","strokeWidth":1.5},"encoding":{"x":{"datum":240,"type":"quantitative","scale":{"domain":[94,400.6],"nice":false,"zero":false},"axis":null},"y":{"datum":6.63,"type":"quantitative","scale":{"domain":[-0.356,6.63],"nice":false,"zero":false},"axis":null},"y2":{"datum":6.56}}},
 {"data":{"values":[{}]},"mark":{"type":"rule","strokeWidth":1.5},"encoding":{"x":{"datum":250,"type":"quantitative","scale":{"domain":[94,400.6],"nice":false,"zero":false},"axis":null},"y":{"datum":6.63,"type":"quantitative","scale":{"domain":[-0.356,6.63],"nice":false,"zero":false},"axis":null},"y2":{"datum":6.56}}},
 {"data":{"values":[{}]},"mark":{"type":"rule","strokeWidth":1.5},"encoding":{"x":{"datum":260,"type":"quantitative","scale":{"domain":[94,400.6],"nice":false,"zero":false},"axis":null},"y":{"datum":6.63,"type":"quantitative","scale":{"domain":[-0.356,6.63],"nice":false,"zero":false},"axis":null},"y2":{"datum":6.56}}},
 {"data":{"values":[{}]},"mark":{"type":"rule","strokeWidth":1.5},"encoding":{"x":{"datum":270,"type":"quantitative","scale":{"domain":[94,400.6],"nice":false,"zero":false},"axis":null},"y":{"datum":6.63,"type":"quantitative","scale":{"domain":[-0.356,6.63],"nice":false,"zero":false},"axis":null},"y2":{"datum":6.56}}},
 {"data":{"values":[{}]},"mark":{"type":"rule","strokeWidth":1.5},"encoding":{"x":{"datum":280,"type":"quantitative","scale":{"domain":[94,400.6],"nice":false,"zero":false},"axis":null},"y":{"datum":6.63,"type":"quantitative","scale":{"domain":[-0.356,6.63],"nice":false,"zero":false},"axis":null},"y2":{"datum":6.56}}},
 {"data":{"values":[{}]},"mark":{"type":"rule","strokeWidth":1.5},"encoding":{"x":{"datum":290,"type":"quantitative","scale":{"domain":[94,400.6],"nice":false,"zero":false},"axis":null},"y":{"datum":6.63,"type":"quantitative","scale":{"domain":[-0.356,6.63],"nice":false,"zero":false},"axis":null},"y2":{"datum":6.56}}},
 {"data":{"values":[{}]},"mark":{"type":"rule","strokeWidth":1.5},"encoding":{"x":{"datum":310,"type":"quantitative","scale":{"domain":[94,400.6],"nice":false,"zero":false},"axis":null},"y":{"datum":6.63,"type":"quantitative","scale":{"domain":[-0.356,6.63],"nice":false,"zero":false},"axis":null},"y2":{"datum":6.56}}},
 {"data":{"values":[{}]},"mark":{"type":"rule","strokeWidth":1.5},"encoding":{"x":{"datum":320,"type":"quantitative","scale":{"domain":[94,400.6],"nice":false,"zero":false},"axis":null},"y":{"datum":6.63,"type":"quantitative","scale":{"domain":[-0.356,6.63],"nice":false,"zero":false},"axis":null},"y2":{"datum":6.56}}},
 {"data":{"values":[{}]},"mark":{"type":"rule","strokeWidth":1.5},"encoding":{"x":{"datum":330,"type":"quantitative","scale":{"domain":[94,400.6],"nice":false,"zero":false},"axis":null},"y":{"datum":6.63,"type":"quantitative","scale":{"domain":[-0.356,6.63],"nice":false,"zero":false},"axis":null},"y2":{"datum":6.56}}},
 {"data":{"values":[{}]},"mark":{"type":"rule","strokeWidth":1.5},"encoding":{"x":{"datum":340,"type":"quantitative","scale":{"domain":[94,400.6],"nice":false,"zero":false},"axis":null},"y":{"datum":6.63,"type":"quantitative","scale":{"domain":[-0.356,6.63],"nice":false,"zero":false},"axis":null},"y2":{"datum":6.56}}},
 {"data":{"values":[{}]},"mark":{"type":"rule","strokeWidth":1.5},"encoding":{"x":{"datum":350,"type":"quantitative","scale":{"domain":[94,400.6],"nice":false,"zero":false},"axis":null},"y":{"datum":6.63,"type":"quantitative","scale":{"domain":[-0.356,6.63],"nice":false,"zero":false},"axis":null},"y2":{"datum":6.56}}},
 {"data":{"values":[{}]},"mark":{"type":"rule","strokeWidth":1.5},"encoding":{"x":{"datum":360,"type":"quantitative","scale":{"domain":[94,400.6],"nice":false,"zero":false},"axis":null},"y":{"datum":6.63,"type":"quantitative","scale":{"domain":[-0.356,6.63],"nice":false,"zero":false},"axis":null},"y2":{"datum":6.56}}},
 {"data":{"values":[{}]},"mark":{"type":"rule","strokeWidth":1.5},"encoding":{"x":{"datum":370,"type":"quantitative","scale":{"domain":[94,400.6],"nice":false,"zero":false},"axis":null},"y":{"datum":6.63,"type":"quantitative","scale":{"domain":[-0.356,6.63],"nice":false,"zero":false},"axis":null},"y2":{"datum":6.56}}},
 {"data":{"values":[{}]},"mark":{"type":"rule","strokeWidth":1.5},"encoding":{"x":{"datum":380,"type":"quantitative","scale":{"domain":[94,400.6],"nice":false,"zero":false},"axis":null},"y":{"datum":6.63,"type":"quantitative","scale":{"domain":[-0.356,6.63],"nice":false,"zero":false},"axis":null},"y2":{"datum":6.56}}},
 {"data":{"values":[{}]},"mark":{"type":"rule","strokeWidth":1.5},"encoding":{"x":{"datum":390,"type":"quantitative","scale":{"domain":[94,400.6],"nice":false,"zero":false},"axis":null},"y":{"datum":6.63,"type":"quantitative","scale":{"domain":[-0.356,6.63],"nice":false,"zero":false},"axis":null},"y2":{"datum":6.56}}},
 {"data":{"values":[{}]},"mark":{"type":"rule","strokeWidth":1.5},"encoding":{"x":{"datum":94,"type":"quantitative","scale":{"domain":[94,400.6],"nice":false,"zero":false},"axis":null},"x2":{"datum":100.5},"y":{"datum":2,"type":"quantitative","scale":{"domain":[-0.356,6.63],"nice":false,"zero":false},"axis":null}}},
 {"data":{"values":[{}]},"mark":{"type":"rule","strokeWidth":1.5},"encoding":{"x":{"datum":94,"type":"quantitative","scale":{"domain":[94,400.6],"nice":false,"zero":false},"axis":null},"x2":{"datum":100.5},"y":{"datum":4,"type":"quantitative","scale":{"domain":[-0.356,6.63],"nice":false,"zero":false},"axis":null}}},
 {"data":{"values":[{}]},"mark":{"type":"rule","strokeWidth":1.5},"encoding":{"x":{"datum":94,"type":"quantitative","scale":{"domain":[94,400.6],"nice":false,"zero":false},"axis":null},"x2":{"datum":100.5},"y":{"datum":6,"type":"quantitative","scale":{"domain":[-0.356,6.63],"nice":false,"zero":false},"axis":null}}},
 {"data":{"values":[{}]},"mark":{"type":"rule","strokeWidth":1.5},"encoding":{"x":{"datum":393.5,"type":"quantitative","scale":{"domain":[94,400.6],"nice":false,"zero":false},"axis":null},"x2":{"datum":400.6},"y":{"datum":2,"type":"quantitative","scale":{"domain":[-0.356,6.63],"nice":false,"zero":false},"axis":null}}},
 {"data":{"values":[{}]},"mark":{"type":"rule","strokeWidth":1.5},"encoding":{"x":{"datum":393.5,"type":"quantitative","scale":{"domain":[94,400.6],"nice":false,"zero":false},"axis":null},"x2":{"datum":400.6},"y":{"datum":4,"type":"quantitative","scale":{"domain":[-0.356,6.63],"nice":false,"zero":false},"axis":null}}},
 {"data":{"values":[{}]},"mark":{"type":"rule","strokeWidth":1.5},"encoding":{"x":{"datum":393.5,"type":"quantitative","scale":{"domain":[94,400.6],"nice":false,"zero":false},"axis":null},"x2":{"datum":400.6},"y":{"datum":6,"type":"quantitative","scale":{"domain":[-0.356,6.63],"nice":false,"zero":false},"axis":null}}},
 {"data": {"values": [{}]},
  "mark": {"type": "rule", "strokeWidth": 1.2, "strokeDash": [9, 6]},
  "encoding": {
   "x": {"datum": 200, "type": "quantitative", "scale": {"domain": [94, 400.6], "nice": false, "zero": false}, "axis": null},
   "x2": {"datum": 330},
   "y": {"datum": 0, "type": "quantitative", "scale": {"domain": [-0.356, 6.63], "nice": false, "zero": false}, "axis": null}
  }},
 {"data": {"values": [{}]},
  "mark": {"type": "rule", "strokeWidth": 1.5},
  "encoding": {
   "x": {"datum": 330, "type": "quantitative", "scale": {"domain": [94, 400.6], "nice": false, "zero": false}, "axis": null},
   "x2": {"datum": 400.6},
   "y": {"datum": 0, "type": "quantitative", "scale": {"domain": [-0.356, 6.63], "nice": false, "zero": false}, "axis": null}
  }},
 {"data": {"values": [{}]},
  "mark": {"type": "text", "align": "center", "baseline": "alphabetic", "lineHeight": 22},
  "encoding": {
   "x": {"datum": 193.7, "type": "quantitative", "scale": {"domain": [94, 400.6], "nice": false, "zero": false}, "axis": null},
   "y": {"datum": 6.208, "type": "quantitative", "scale": {"domain": [-0.356, 6.63], "nice": false, "zero": false}, "axis": null},
   "text": {"value": ["first layer", "isobutene"]}
  }},
 {"data": {"values": [{}]},
  "mark": {"type": "text", "align": "center", "baseline": "alphabetic", "lineHeight": 22},
  "encoding": {
   "x": {"datum": 125.9, "type": "quantitative", "scale": {"domain": [94, 400.6], "nice": false, "zero": false}, "axis": null},
   "y": {"datum": 3.545, "type": "quantitative", "scale": {"domain": [-0.356, 6.63], "nice": false, "zero": false}, "axis": null},
   "text": {"value": ["physisorbed", "isobutene"]}
  }},
 {"data": {"values": [{}]},
  "mark": {"type": "text", "align": "center", "baseline": "alphabetic", "lineHeight": 22.5},
  "encoding": {
   "x": {"datum": 261.8, "type": "quantitative", "scale": {"domain": [94, 400.6], "nice": false, "zero": false}, "axis": null},
   "y": {"datum": 2.792, "type": "quantitative", "scale": {"domain": [-0.356, 6.63], "nice": false, "zero": false}, "axis": null},
   "text": {"value": ["near-unity", "sticking up to", "this coverage", "(~0.4 ML)"]}
  }},
 {"data": {"values": [{}]},
  "mark": {"type": "text", "align": "center", "baseline": "alphabetic", "lineHeight": 22},
  "encoding": {
   "x": {"datum": 263.8, "type": "quantitative", "scale": {"domain": [94, 400.6], "nice": false, "zero": false}, "axis": null},
   "y": {"datum": 0.891, "type": "quantitative", "scale": {"domain": [-0.356, 6.63], "nice": false, "zero": false}, "axis": null},
   "text": {"value": ["isobutene", "at defects"]}
  }},
 {"data": {"values": [{}]},
  "mark": {"type": "rule", "strokeWidth": 1},
  "encoding": {
   "x": {"datum": 201.4, "type": "quantitative", "scale": {"domain": [94, 400.6], "nice": false, "zero": false}, "axis": null},
   "x2": {"datum": 227.9},
   "y": {"datum": 3.07, "type": "quantitative", "scale": {"domain": [-0.356, 6.63], "nice": false, "zero": false}, "axis": null},
   "y2": {"datum": 2.84}
  }},
 {"data": {"values": [{}]},
  "mark": {"type": "rect", "fill": "white", "stroke": "black", "strokeWidth": 2},
  "encoding": {
   "x": {"datum": -0.74, "type": "quantitative", "scale": {"domain": [-0.74, 25.3], "range": [285, 497], "nice": false, "zero": false},
     "axis": {"orient": "bottom", "offset": -409, "values": [0, 10, 20], "labelPadding": 4, "title": ["Isobutene exposure", "(x10¹⁴ molecules/cm²)"], "titleY": 40, "titleBaseline": "alphabetic", "titleLineHeight": 23}},
   "x2": {"datum": 25.3},
   "y": {"datum": 0, "type": "quantitative", "scale": {"domain": [0, 100], "range": [297, 30], "nice": false, "zero": false},
     "axis": {"orient": "left", "offset": -285, "labels": false, "title": "Mass 56 TPD peak area (arb. units)", "titleX": -17, "titleY": 163.5, "titleBaseline": "alphabetic", "titleAngle": 270}},
   "y2": {"datum": 100}
  }},
 {"data":{"values":[{}]},"mark":{"type":"rule","strokeWidth":1.5},"encoding":{"x":{"datum":0,"type":"quantitative","scale":{"domain":[-0.74,25.3],"range":[285,497],"nice":false,"zero":false},"axis":null},"y":{"datum":0,"type":"quantitative","scale":{"domain":[0,100],"range":[297,30],"nice":false,"zero":false},"axis":null},"y2":{"datum":3.0}}},
 {"data":{"values":[{}]},"mark":{"type":"rule","strokeWidth":1.5},"encoding":{"x":{"datum":10,"type":"quantitative","scale":{"domain":[-0.74,25.3],"range":[285,497],"nice":false,"zero":false},"axis":null},"y":{"datum":0,"type":"quantitative","scale":{"domain":[0,100],"range":[297,30],"nice":false,"zero":false},"axis":null},"y2":{"datum":3.0}}},
 {"data":{"values":[{}]},"mark":{"type":"rule","strokeWidth":1.5},"encoding":{"x":{"datum":20,"type":"quantitative","scale":{"domain":[-0.74,25.3],"range":[285,497],"nice":false,"zero":false},"axis":null},"y":{"datum":0,"type":"quantitative","scale":{"domain":[0,100],"range":[297,30],"nice":false,"zero":false},"axis":null},"y2":{"datum":3.0}}},
 {"data":{"values":[{}]},"mark":{"type":"rule","strokeWidth":1.5},"encoding":{"x":{"datum":2,"type":"quantitative","scale":{"domain":[-0.74,25.3],"range":[285,497],"nice":false,"zero":false},"axis":null},"y":{"datum":0,"type":"quantitative","scale":{"domain":[0,100],"range":[297,30],"nice":false,"zero":false},"axis":null},"y2":{"datum":2.25}}},
 {"data":{"values":[{}]},"mark":{"type":"rule","strokeWidth":1.5},"encoding":{"x":{"datum":4,"type":"quantitative","scale":{"domain":[-0.74,25.3],"range":[285,497],"nice":false,"zero":false},"axis":null},"y":{"datum":0,"type":"quantitative","scale":{"domain":[0,100],"range":[297,30],"nice":false,"zero":false},"axis":null},"y2":{"datum":2.25}}},
 {"data":{"values":[{}]},"mark":{"type":"rule","strokeWidth":1.5},"encoding":{"x":{"datum":6,"type":"quantitative","scale":{"domain":[-0.74,25.3],"range":[285,497],"nice":false,"zero":false},"axis":null},"y":{"datum":0,"type":"quantitative","scale":{"domain":[0,100],"range":[297,30],"nice":false,"zero":false},"axis":null},"y2":{"datum":2.25}}},
 {"data":{"values":[{}]},"mark":{"type":"rule","strokeWidth":1.5},"encoding":{"x":{"datum":8,"type":"quantitative","scale":{"domain":[-0.74,25.3],"range":[285,497],"nice":false,"zero":false},"axis":null},"y":{"datum":0,"type":"quantitative","scale":{"domain":[0,100],"range":[297,30],"nice":false,"zero":false},"axis":null},"y2":{"datum":2.25}}},
 {"data":{"values":[{}]},"mark":{"type":"rule","strokeWidth":1.5},"encoding":{"x":{"datum":12,"type":"quantitative","scale":{"domain":[-0.74,25.3],"range":[285,497],"nice":false,"zero":false},"axis":null},"y":{"datum":0,"type":"quantitative","scale":{"domain":[0,100],"range":[297,30],"nice":false,"zero":false},"axis":null},"y2":{"datum":2.25}}},
 {"data":{"values":[{}]},"mark":{"type":"rule","strokeWidth":1.5},"encoding":{"x":{"datum":14,"type":"quantitative","scale":{"domain":[-0.74,25.3],"range":[285,497],"nice":false,"zero":false},"axis":null},"y":{"datum":0,"type":"quantitative","scale":{"domain":[0,100],"range":[297,30],"nice":false,"zero":false},"axis":null},"y2":{"datum":2.25}}},
 {"data":{"values":[{}]},"mark":{"type":"rule","strokeWidth":1.5},"encoding":{"x":{"datum":16,"type":"quantitative","scale":{"domain":[-0.74,25.3],"range":[285,497],"nice":false,"zero":false},"axis":null},"y":{"datum":0,"type":"quantitative","scale":{"domain":[0,100],"range":[297,30],"nice":false,"zero":false},"axis":null},"y2":{"datum":2.25}}},
 {"data":{"values":[{}]},"mark":{"type":"rule","strokeWidth":1.5},"encoding":{"x":{"datum":18,"type":"quantitative","scale":{"domain":[-0.74,25.3],"range":[285,497],"nice":false,"zero":false},"axis":null},"y":{"datum":0,"type":"quantitative","scale":{"domain":[0,100],"range":[297,30],"nice":false,"zero":false},"axis":null},"y2":{"datum":2.25}}},
 {"data":{"values":[{}]},"mark":{"type":"rule","strokeWidth":1.5},"encoding":{"x":{"datum":22,"type":"quantitative","scale":{"domain":[-0.74,25.3],"range":[285,497],"nice":false,"zero":false},"axis":null},"y":{"datum":0,"type":"quantitative","scale":{"domain":[0,100],"range":[297,30],"nice":false,"zero":false},"axis":null},"y2":{"datum":2.25}}},
 {"data":{"values":[{}]},"mark":{"type":"rule","strokeWidth":1.5},"encoding":{"x":{"datum":24,"type":"quantitative","scale":{"domain":[-0.74,25.3],"range":[285,497],"nice":false,"zero":false},"axis":null},"y":{"datum":0,"type":"quantitative","scale":{"domain":[0,100],"range":[297,30],"nice":false,"zero":false},"axis":null},"y2":{"datum":2.25}}},
 {"data":{"values":[{}]},"mark":{"type":"rule","strokeWidth":1.5},"encoding":{"x":{"datum":0,"type":"quantitative","scale":{"domain":[-0.74,25.3],"range":[285,497],"nice":false,"zero":false},"axis":null},"y":{"datum":100,"type":"quantitative","scale":{"domain":[0,100],"range":[297,30],"nice":false,"zero":false},"axis":null},"y2":{"datum":96.6}}},
 {"data":{"values":[{}]},"mark":{"type":"rule","strokeWidth":1.5},"encoding":{"x":{"datum":10,"type":"quantitative","scale":{"domain":[-0.74,25.3],"range":[285,497],"nice":false,"zero":false},"axis":null},"y":{"datum":100,"type":"quantitative","scale":{"domain":[0,100],"range":[297,30],"nice":false,"zero":false},"axis":null},"y2":{"datum":96.6}}},
 {"data":{"values":[{}]},"mark":{"type":"rule","strokeWidth":1.5},"encoding":{"x":{"datum":20,"type":"quantitative","scale":{"domain":[-0.74,25.3],"range":[285,497],"nice":false,"zero":false},"axis":null},"y":{"datum":100,"type":"quantitative","scale":{"domain":[0,100],"range":[297,30],"nice":false,"zero":false},"axis":null},"y2":{"datum":96.6}}},
 {"data":{"values":[{}]},"mark":{"type":"rule","strokeWidth":1.5},"encoding":{"x":{"datum":2,"type":"quantitative","scale":{"domain":[-0.74,25.3],"range":[285,497],"nice":false,"zero":false},"axis":null},"y":{"datum":100,"type":"quantitative","scale":{"domain":[0,100],"range":[297,30],"nice":false,"zero":false},"axis":null},"y2":{"datum":97.75}}},
 {"data":{"values":[{}]},"mark":{"type":"rule","strokeWidth":1.5},"encoding":{"x":{"datum":4,"type":"quantitative","scale":{"domain":[-0.74,25.3],"range":[285,497],"nice":false,"zero":false},"axis":null},"y":{"datum":100,"type":"quantitative","scale":{"domain":[0,100],"range":[297,30],"nice":false,"zero":false},"axis":null},"y2":{"datum":97.75}}},
 {"data":{"values":[{}]},"mark":{"type":"rule","strokeWidth":1.5},"encoding":{"x":{"datum":6,"type":"quantitative","scale":{"domain":[-0.74,25.3],"range":[285,497],"nice":false,"zero":false},"axis":null},"y":{"datum":100,"type":"quantitative","scale":{"domain":[0,100],"range":[297,30],"nice":false,"zero":false},"axis":null},"y2":{"datum":97.75}}},
 {"data":{"values":[{}]},"mark":{"type":"rule","strokeWidth":1.5},"encoding":{"x":{"datum":8,"type":"quantitative","scale":{"domain":[-0.74,25.3],"range":[285,497],"nice":false,"zero":false},"axis":null},"y":{"datum":100,"type":"quantitative","scale":{"domain":[0,100],"range":[297,30],"nice":false,"zero":false},"axis":null},"y2":{"datum":97.75}}},
 {"data":{"values":[{}]},"mark":{"type":"rule","strokeWidth":1.5},"encoding":{"x":{"datum":12,"type":"quantitative","scale":{"domain":[-0.74,25.3],"range":[285,497],"nice":false,"zero":false},"axis":null},"y":{"datum":100,"type":"quantitative","scale":{"domain":[0,100],"range":[297,30],"nice":false,"zero":false},"axis":null},"y2":{"datum":97.75}}},
 {"data":{"values":[{}]},"mark":{"type":"rule","strokeWidth":1.5},"encoding":{"x":{"datum":14,"type":"quantitative","scale":{"domain":[-0.74,25.3],"range":[285,497],"nice":false,"zero":false},"axis":null},"y":{"datum":100,"type":"quantitative","scale":{"domain":[0,100],"range":[297,30],"nice":false,"zero":false},"axis":null},"y2":{"datum":97.75}}},
 {"data":{"values":[{}]},"mark":{"type":"rule","strokeWidth":1.5},"encoding":{"x":{"datum":16,"type":"quantitative","scale":{"domain":[-0.74,25.3],"range":[285,497],"nice":false,"zero":false},"axis":null},"y":{"datum":100,"type":"quantitative","scale":{"domain":[0,100],"range":[297,30],"nice":false,"zero":false},"axis":null},"y2":{"datum":97.75}}},
 {"data":{"values":[{}]},"mark":{"type":"rule","strokeWidth":1.5},"encoding":{"x":{"datum":18,"type":"quantitative","scale":{"domain":[-0.74,25.3],"range":[285,497],"nice":false,"zero":false},"axis":null},"y":{"datum":100,"type":"quantitative","scale":{"domain":[0,100],"range":[297,30],"nice":false,"zero":false},"axis":null},"y2":{"datum":97.75}}},
 {"data":{"values":[{}]},"mark":{"type":"rule","strokeWidth":1.5},"encoding":{"x":{"datum":22,"type":"quantitative","scale":{"domain":[-0.74,25.3],"range":[285,497],"nice":false,"zero":false},"axis":null},"y":{"datum":100,"type":"quantitative","scale":{"domain":[0,100],"range":[297,30],"nice":false,"zero":false},"axis":null},"y2":{"datum":97.75}}},
 {"data":{"values":[{}]},"mark":{"type":"rule","strokeWidth":1.5},"encoding":{"x":{"datum":24,"type":"quantitative","scale":{"domain":[-0.74,25.3],"range":[285,497],"nice":false,"zero":false},"axis":null},"y":{"datum":100,"type":"quantitative","scale":{"domain":[0,100],"range":[297,30],"nice":false,"zero":false},"axis":null},"y2":{"datum":97.75}}},
 {"data": {"values": [{}]},
  "mark": {"type": "rule", "strokeWidth": 1.2, "strokeDash": [12, 8]},
  "encoding": {
   "x": {"datum": -0.74, "type": "quantitative", "scale": {"domain": [-0.74, 25.3], "range": [285, 497], "nice": false, "zero": false}, "axis": null},
   "x2": {"datum": 24.0},
   "y": {"datum": 70.5, "type": "quantitative", "scale": {"domain": [0, 100], "range": [297, 30], "nice": false, "zero": false}, "axis": null},
   "y2": {"datum": 91.4}
  }},
 {"data": {"values": [{}]},
  "mark": {"type": "rule", "strokeWidth": 1.2, "strokeDash": [12, 8]},
  "encoding": {
   "x": {"datum": 5.3, "type": "quantitative", "scale": {"domain": [-0.74, 25.3], "range": [285, 497], "nice": false, "zero": false}, "axis": null},
   "x2": {"datum": 3.4},
   "y": {"datum": 93.6, "type": "quantitative", "scale": {"domain": [0, 100], "range": [297, 30], "nice": false, "zero": false}, "axis": null},
   "y2": {"datum": 58}
  }},
 {"data": {"values": [{}]},
  "mark": {"type": "rule", "strokeWidth": 1.2, "strokeDash": [12, 8]},
  "encoding": {
   "x": {"datum": 1.2, "type": "quantitative", "scale": {"domain": [-0.74, 25.3], "range": [285, 497], "nice": false, "zero": false}, "axis": null},
   "x2": {"datum": 25.3},
   "y": {"datum": 7.1, "type": "quantitative", "scale": {"domain": [0, 100], "range": [297, 30], "nice": false, "zero": false}, "axis": null}
  }},
 {"data": {"values": [{}]},
  "mark": {"type": "rule", "strokeWidth": 1.2, "strokeDash": [2, 2]},
  "encoding": {
   "x": {"datum": 4.1, "type": "quantitative", "scale": {"domain": [-0.74, 25.3], "range": [285, 497], "nice": false, "zero": false}, "axis": null},
   "y": {"datum": 0, "type": "quantitative", "scale": {"domain": [0, 100], "range": [297, 30], "nice": false, "zero": false}, "axis": null},
   "y2": {"datum": 74.7}
  }},
 {"data": {"name": "filled"},
  "mark": {"type": "circle", "color": "black", "size": 50, "opacity": 1},
  "encoding": {
   "x": {"field": "e", "type": "quantitative", "scale": {"domain": [-0.74, 25.3], "range": [285, 497], "nice": false, "zero": false}, "axis": null},
   "y": {"field": "a", "type": "quantitative", "scale": {"domain": [0, 100], "range": [297, 30], "nice": false, "zero": false}, "axis": null}
  }},
 {"data": {"name": "open"},
  "mark": {"type": "point", "shape": "circle", "filled": true, "fill": "white", "stroke": "black", "strokeWidth": 1.1, "size": 45, "opacity": 1},
  "encoding": {
   "x": {"field": "e", "type": "quantitative", "scale": {"domain": [-0.74, 25.3], "range": [285, 497], "nice": false, "zero": false}, "axis": null},
   "y": {"field": "a", "type": "quantitative", "scale": {"domain": [0, 100], "range": [297, 30], "nice": false, "zero": false}, "axis": null}
  }},
 {"data": {"values": [{}]},
  "mark": {"type": "text", "align": "center", "baseline": "alphabetic", "lineHeight": 21.5},
  "encoding": {
   "x": {"datum": 15.74, "type": "quantitative", "scale": {"domain": [-0.74, 25.3], "range": [285, 497], "nice": false, "zero": false}, "axis": null},
   "y": {"datum": 59.2, "type": "quantitative", "scale": {"domain": [0, 100], "range": [297, 30], "nice": false, "zero": false}, "axis": null},
   "text": {"value": ["first layer", "saturation", "coverage =", "4.0x10¹⁴", "(~0.75 ML)"]}
  }}
],
"resolve": {"scale": {"x": "independent", "y": "independent"}, "axis": {"x": "independent", "y": "independent"}}
}
